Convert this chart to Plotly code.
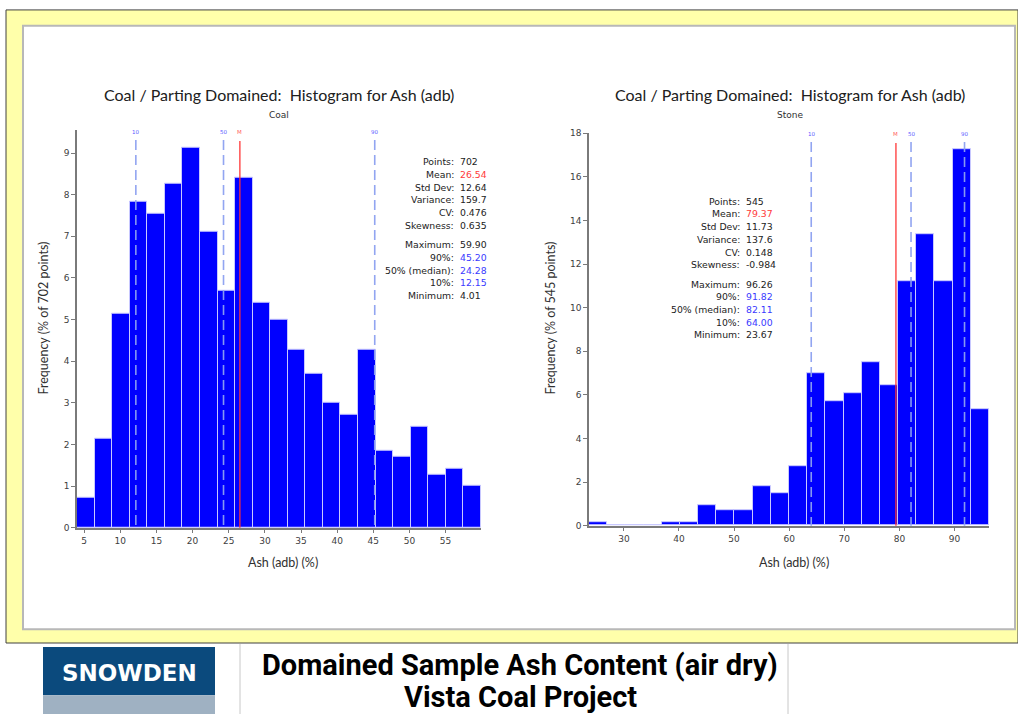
import numpy as np
import plotly.graph_objects as go

W, H = 1018, 719

# ---------------- data ----------------
coal_pct = [0.71, 2.14, 5.13, 7.83, 7.55, 8.26, 9.12, 7.12, 5.70, 8.40, 5.41, 4.99,
            4.27, 3.70, 2.99, 2.71, 4.27, 1.85, 1.71, 2.42, 1.28, 1.42, 1.00]
coal_min, coal_max = 4.01, 59.90
coal_stats_labels = ["Points:", "Mean:", "Std Dev:", "Variance:", "CV:", "Skewness:",
                     "Maximum:", "90%:", "50% (median):", "10%:", "Minimum:"]
coal_stats_values = ["702", "26.54", "12.64", "159.7", "0.476", "0.635",
                     "59.90", "45.20", "24.28", "12.15", "4.01"]
coal_q10, coal_q50, coal_q90, coal_mean = 12.15, 24.28, 45.20, 26.54

stone_pct = [0.18, 0.0, 0.0, 0.0, 0.18, 0.18, 0.92, 0.73, 0.73, 1.83, 1.47, 2.75,
             6.97, 5.69, 6.06, 7.52, 6.42, 11.19, 13.39, 11.19, 17.25, 5.32]
stone_min, stone_max = 23.67, 96.26
stone_stats_values = ["545", "79.37", "11.73", "137.6", "0.148", "-0.984",
                      "96.26", "91.82", "82.11", "64.00", "23.67"]
stone_q10, stone_q50, stone_q90, stone_mean = 64.00, 82.11, 91.82, 79.37

coal_xticks = [5, 10, 15, 20, 25, 30, 35, 40, 45, 50, 55]
stone_xticks = [30, 40, 50, 60, 70, 80, 90]

title_text = "Coal / Parting Domained:  Histogram for Ash (adb)"
banner_line1 = "Domained Sample Ash Content (air dry)"
banner_line2 = "Vista Coal Project"


def px_x(p):
    return p / W


def px_y(p):
    return 1 - p / H


BLUE = "#0000ff"
QCOL = "rgba(140,160,240,0.95)"
MCOL = "rgba(255,50,50,0.8)"
TXT = "#222222"
VBLUE = "#3a3aff"
VRED = "#ff3a3a"

fig = go.Figure()


def add_hist(pct, vmin, vmax, xa, ya):
    n = len(pct)
    edges = np.linspace(vmin, vmax, n + 1)
    centers = (edges[:-1] + edges[1:]) / 2
    fig.add_trace(go.Bar(
        x=centers, y=pct, width=(vmax - vmin) / n,
        marker=dict(color=BLUE, line=dict(color="#c8c8ff", width=1)),
        xaxis=xa, yaxis=ya, showlegend=False, hoverinfo="skip"))


add_hist(coal_pct, coal_min, coal_max, "x", "y")
add_hist(stone_pct, stone_min, stone_max, "x2", "y2")

shapes = []
annotations = []


def note(text, x, y, size, color, family, xanchor="center", xref="paper", angle=0):
    annotations.append(dict(text=text, x=x, y=y, xref=xref, yref="paper",
                            xanchor=xanchor, yanchor="middle", showarrow=False,
                            textangle=angle,
                            font=dict(family=family, size=size, color=color)))


# ---------- page frame ----------
shapes += [
    dict(type="rect", xref="paper", yref="paper", x0=px_x(6), x1=px_x(1018),
         y0=px_y(647), y1=px_y(5), fillcolor="#ffffaa",
         line=dict(color="#404040", width=1), layer="below"),
    dict(type="rect", xref="paper", yref="paper", x0=px_x(23), x1=px_x(1015),
         y0=px_y(633), y1=px_y(21), fillcolor="white",
         line=dict(color="#b8b8b8", width=2), layer="below"),
    dict(type="line", xref="paper", yref="paper", x0=px_x(240), x1=px_x(240),
         y0=px_y(719), y1=px_y(648), line=dict(color="#c8c8c8", width=1)),
    dict(type="line", xref="paper", yref="paper", x0=px_x(788), x1=px_x(788),
         y0=px_y(719), y1=px_y(648), line=dict(color="#c8c8c8", width=1)),
    # logo
    dict(type="rect", xref="paper", yref="paper", x0=px_x(43), x1=px_x(215),
         y0=px_y(700), y1=px_y(651), fillcolor="#0b4a7d", line=dict(width=0)),
    dict(type="rect", xref="paper", yref="paper", x0=px_x(43), x1=px_x(215),
         y0=px_y(719), y1=px_y(700), fillcolor="#9fb1c2", line=dict(width=0)),
]
note("<b>SNOWDEN</b>", px_x(129), px_y(677), 23, "white", "DejaVu Sans")
note("<b>" + banner_line1 + "</b>", px_x(520), px_y(669), 29, "black", "Roboto")
note("<b>" + banner_line2 + "</b>", px_x(520), px_y(702), 29, "black", "Roboto")


def add_panel(xa, subtitle, cx, npts, ylab_x, stats_vals, colon_x, top_y,
              q10, q50, q90, mean, line_top, lab_y):
    note(title_text, px_x(cx), px_y(91), 16, "#202020", "Lato")
    note(subtitle, px_x(cx), px_y(112), 9, "#303030", "DejaVu Sans")
    note("Ash (adb) (%)", px_x(cx + 4), px_y(565), 12.5, "#303030", "Lato")
    note(f"Frequency (% of {npts} points)", px_x(ylab_x), px_y(318), 12.5,
         "#303030", "Lato", angle=-90)
    # summary statistics
    offs = [0, 12.9, 25.8, 38.7, 51.6, 64.5, 84, 96.9, 109.8, 122.7, 135.6]
    vcols = [TXT, VRED, TXT, TXT, TXT, TXT, TXT, VBLUE, VBLUE, VBLUE, TXT]
    for lab, val, off, vc in zip(coal_stats_labels, stats_vals, offs, vcols):
        yy = px_y(top_y + off)
        note(lab, px_x(colon_x), yy, 9.3, TXT, "DejaVu Sans", xanchor="right")
        note(val, px_x(colon_x + 2), yy, 9.3, vc, "DejaVu Sans", xanchor="left")
    # quantile and mean markers
    for q, lab in ((q10, "10"), (q50, "50"), (q90, "90")):
        shapes.append(dict(type="line", xref=xa, yref="paper", x0=q, x1=q,
                           y0=px_y(lab_y + 8), y1=line_top,
                           line=dict(color=QCOL, width=1.6, dash="10px,5px")))
        note(lab, q, px_y(lab_y), 5.5, "#5a5aff", "DejaVu Sans", xref=xa)
    shapes.append(dict(type="line", xref=xa, yref="paper", x0=mean, x1=mean,
                       y0=px_y(lab_y + 9), y1=line_top,
                       line=dict(color=MCOL, width=1.6)))
    note("M", mean, px_y(lab_y), 5.5, "#ff6060", "DejaVu Sans", xref=xa)


add_panel("x", "Coal", 279, 702, 44, coal_stats_values, 456, 159,
          coal_q10, coal_q50, coal_q90, coal_mean, px_y(530), 129)
add_panel("x2", "Stone", 790, 545, 551, stone_stats_values, 742, 199,
          stone_q10, stone_q50, stone_q90, stone_mean, px_y(528), 131)

axis_common = dict(showline=True, linecolor="#7a7a7a", linewidth=1.5, ticks="outside",
                   ticklen=4, tickcolor="#7a7a7a", showgrid=False, zeroline=False,
                   tickfont=dict(family="DejaVu Sans", size=9, color="#404040"),
                   fixedrange=True)

fig.update_layout(
    width=W, height=H, margin=dict(l=0, r=0, t=0, b=0),
    paper_bgcolor="white", plot_bgcolor="rgba(0,0,0,0)",
    showlegend=False, bargap=0,
    xaxis=dict(domain=[px_x(77), px_x(481)], range=[coal_min, coal_max],
               tickvals=coal_xticks, anchor="y", **axis_common),
    yaxis=dict(domain=[px_y(530), px_y(126.5)], range=[0, 9.56], dtick=1,
               anchor="x", **axis_common),
    xaxis2=dict(domain=[px_x(589), px_x(989)], range=[stone_min, stone_max],
                tickvals=stone_xticks, anchor="y2", **axis_common),
    yaxis2=dict(domain=[px_y(528), px_y(130)], range=[0, 18], dtick=2,
                anchor="x2", **axis_common),
    shapes=shapes, annotations=annotations,
)

fig.write_html("out.html")
